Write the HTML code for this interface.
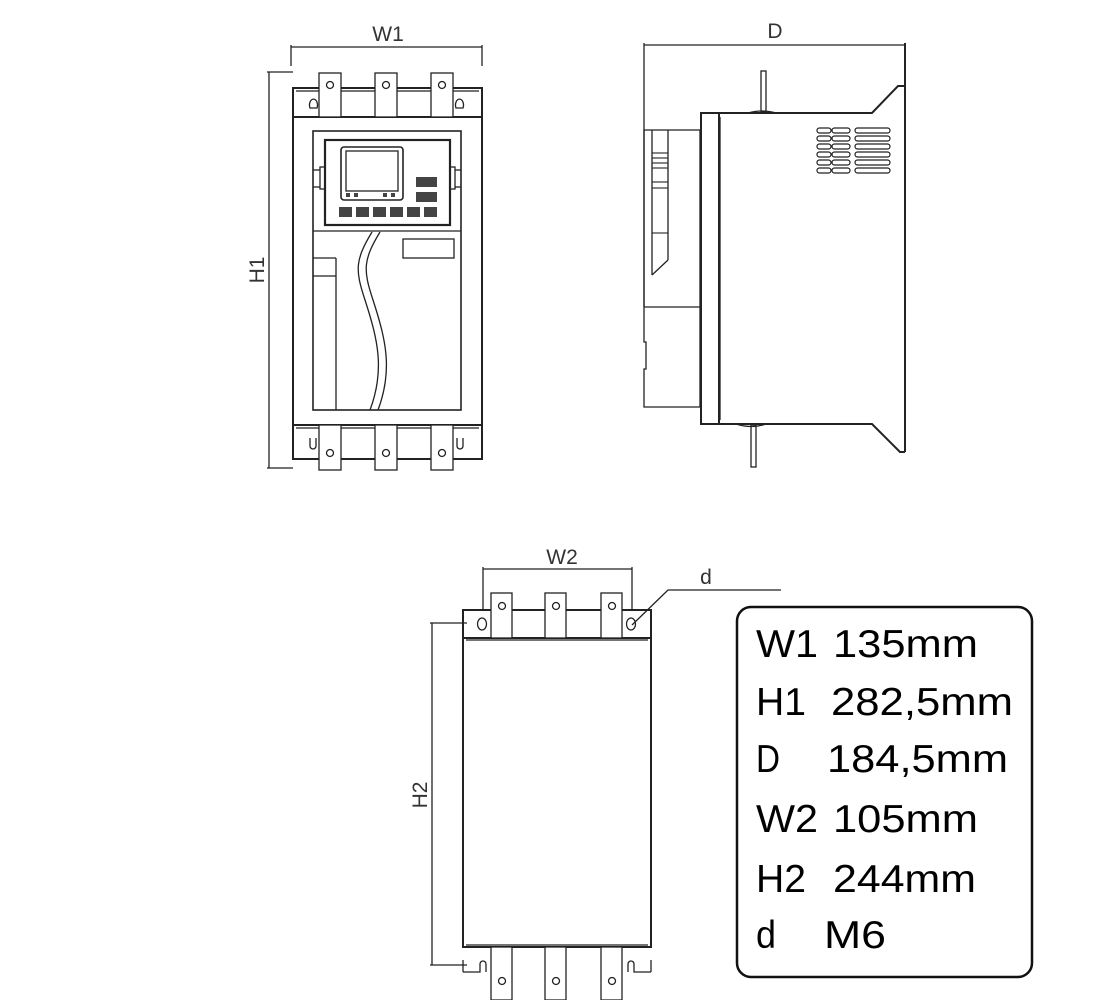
<!DOCTYPE html>
<html><head><meta charset="utf-8"><style>
html,body{margin:0;padding:0;background:#fff;}
svg{display:block;}
text{font-family:"Liberation Sans",sans-serif;}
</style></head><body>
<svg width="1109" height="1000" viewBox="0 0 1109 1000" xmlns="http://www.w3.org/2000/svg">
<g fill="none" stroke="#222" stroke-width="1.3">
<!-- FRONT VIEW -->
<line x1="291" y1="47" x2="482" y2="47"/>
<line x1="291" y1="45" x2="291" y2="66"/>
<line x1="482" y1="45" x2="482" y2="66"/>
<line x1="269" y1="72" x2="269" y2="468"/>
<line x1="267" y1="72" x2="293" y2="72"/>
<line x1="267" y1="468" x2="293" y2="468"/>
<rect x="293" y="88" width="189" height="371" stroke-width="2"/>
<line x1="293" y1="117" x2="482" y2="117" stroke-width="2"/>
<line x1="296" y1="91" x2="479" y2="91"/>
<line x1="293" y1="425" x2="482" y2="425" stroke-width="2"/>
<line x1="296" y1="428" x2="479" y2="428"/>
<g fill="#fff">
<rect x="319" y="73" width="22" height="44"/>
<rect x="375" y="73" width="22" height="44"/>
<rect x="431" y="73" width="22" height="44"/>
<rect x="319" y="425" width="22" height="45"/>
<rect x="375" y="425" width="22" height="45"/>
<rect x="431" y="425" width="22" height="45"/>
</g>
<circle cx="330" cy="85" r="3.5"/><circle cx="386" cy="85" r="3.5"/><circle cx="442" cy="85" r="3.5"/>
<circle cx="330" cy="453" r="3.5"/><circle cx="386" cy="453" r="3.5"/><circle cx="442" cy="453" r="3.5"/>
<path d="M310 108 a4 6 0 1 1 7 0 z"/>
<path d="M456 108 a4 6 0 1 1 7 0 z"/>
<path d="M310 438 v8 a3 3 0 0 0 6 0 v-8"/>
<path d="M457 438 v8 a3 3 0 0 0 6 0 v-8"/>
<rect x="313" y="131" width="148" height="279" stroke-width="1.6"/>
<rect x="325" y="140" width="125" height="85" stroke-width="2.2"/>
<rect x="320" y="167" width="5" height="22"/><rect x="450" y="167" width="5" height="22"/>
<line x1="313" y1="170" x2="320" y2="170"/><line x1="313" y1="187" x2="320" y2="187"/>
<line x1="455" y1="170" x2="461" y2="170"/><line x1="455" y1="187" x2="461" y2="187"/>
<rect x="341" y="147" width="62" height="53" rx="3" stroke-width="1.6"/>
<rect x="346" y="151" width="52" height="40"/>
<g fill="#444" stroke="none">
<rect x="346" y="193" width="4" height="4"/><rect x="354" y="193" width="4" height="4"/>
<rect x="383" y="193" width="4" height="4"/><rect x="391" y="193" width="4" height="4"/>
<rect x="339" y="207" width="13" height="10"/><rect x="356" y="207" width="13" height="10"/>
<rect x="373" y="207" width="13" height="10"/><rect x="390" y="207" width="13" height="10"/>
<rect x="407" y="207" width="13" height="10"/><rect x="424" y="207" width="13" height="10"/>
<rect x="416" y="177" width="21" height="10"/><rect x="416" y="192" width="21" height="10"/>
</g>
<line x1="313" y1="231" x2="461" y2="231"/>
<rect x="403" y="239" width="51" height="19"/>
<line x1="313" y1="258" x2="336" y2="258"/>
<line x1="313" y1="276" x2="336" y2="276"/>
<line x1="336" y1="258" x2="336" y2="410"/>
<path d="M372 232 C355 260,355 270,365 300 C378 340,385 370,370 410"/>
<path d="M380 232 C363 260,363 270,373 300 C386 340,393 370,378 410"/>
<!-- SIDE VIEW -->
<line x1="644" y1="45" x2="905" y2="45"/>
<line x1="644" y1="43" x2="644" y2="307"/>
<line x1="905" y1="43" x2="905" y2="452" stroke-width="2"/>
<path d="M701 113 H872 L898 86 H905" stroke-width="2"/>
<path d="M701 424 H872 L900 452 H905" stroke-width="2"/>
<rect x="701" y="113" width="18" height="311" stroke-width="2"/>
<line x1="720" y1="117" x2="720" y2="420"/>
<rect x="761" y="71" width="5" height="41"/>
<rect x="751" y="425" width="5" height="42"/>
<path d="M748 113 q14 -4 28 0"/><path d="M736 424 q15 5 30 0"/>
<path d="M700 130 H644 V307 H700 M644 307 V342 H646 V369 H644 V407 H700"/>
<path d="M700 130 V407"/>
<line x1="652" y1="130" x2="652" y2="275"/>
<line x1="668" y1="130" x2="668" y2="260"/>
<path d="M652 275 L668 260"/>
<g stroke-width="1.1">
<line x1="652" y1="153" x2="668" y2="153"/><line x1="652" y1="158" x2="668" y2="158"/>
<line x1="652" y1="163" x2="668" y2="163"/><line x1="652" y1="168" x2="668" y2="168"/>
<line x1="652" y1="182" x2="668" y2="182"/><line x1="652" y1="188" x2="668" y2="188"/>
<line x1="652" y1="233" x2="668" y2="233"/>
</g>
<g stroke-width="1.2">
<rect x="817" y="128" width="14" height="5" rx="2.5"/><rect x="832" y="128" width="18" height="5" rx="2.5"/><rect x="855" y="128" width="35" height="5" rx="2.5"/>
<rect x="817" y="136" width="14" height="5" rx="2.5"/><rect x="832" y="136" width="18" height="5" rx="2.5"/><rect x="855" y="136" width="35" height="5" rx="2.5"/>
<rect x="817" y="144" width="14" height="5" rx="2.5"/><rect x="832" y="144" width="18" height="5" rx="2.5"/><rect x="855" y="144" width="35" height="5" rx="2.5"/>
<rect x="817" y="152" width="14" height="5" rx="2.5"/><rect x="832" y="152" width="18" height="5" rx="2.5"/><rect x="855" y="152" width="35" height="5" rx="2.5"/>
<rect x="817" y="160" width="14" height="5" rx="2.5"/><rect x="832" y="160" width="18" height="5" rx="2.5"/><rect x="855" y="160" width="35" height="5" rx="2.5"/>
<rect x="817" y="168" width="14" height="5" rx="2.5"/><rect x="832" y="168" width="18" height="5" rx="2.5"/><rect x="855" y="168" width="35" height="5" rx="2.5"/>
</g>
<!-- BOTTOM VIEW -->
<line x1="483" y1="569" x2="632" y2="569"/>
<line x1="483" y1="567" x2="483" y2="610"/>
<line x1="632" y1="567" x2="632" y2="610"/>
<path d="M632 625 L668 590 H781"/>
<line x1="432" y1="623" x2="432" y2="965"/>
<line x1="430" y1="623" x2="467" y2="623"/>
<line x1="430" y1="965" x2="467" y2="965"/>
<rect x="463" y="610" width="188" height="337" stroke-width="2"/>
<line x1="463" y1="638" x2="651" y2="638" stroke-width="2"/>
<line x1="466" y1="640" x2="648" y2="640"/>
<line x1="463" y1="947" x2="651" y2="947" stroke-width="2"/>
<line x1="466" y1="945" x2="648" y2="945"/>
<line x1="463" y1="960" x2="463" y2="972"/><line x1="651" y1="960" x2="651" y2="972"/>
<path d="M463 972 H480 V964 a3 3 0 0 1 6 0 V972"/>
<path d="M651 972 H634 V964 a3 3 0 0 0 -6 0 V972"/>
<g fill="#fff">
<rect x="491" y="593" width="21" height="45"/>
<rect x="545" y="593" width="21" height="45"/>
<rect x="601" y="593" width="21" height="45"/>
<rect x="491" y="947" width="21" height="53"/>
<rect x="545" y="947" width="21" height="53"/>
<rect x="601" y="947" width="21" height="53"/>
</g>
<circle cx="502" cy="606" r="3.5"/><circle cx="556" cy="606" r="3.5"/><circle cx="612" cy="606" r="3.5"/>
<circle cx="502" cy="981" r="3.5"/><circle cx="556" cy="981" r="3.5"/><circle cx="612" cy="981" r="3.5"/>
<ellipse cx="482" cy="624" rx="4.5" ry="6"/>
<ellipse cx="631" cy="624" rx="4.5" ry="6"/>
<!-- TABLE -->
<rect x="737" y="607" width="295" height="370" rx="14" stroke="#111" stroke-width="2.5"/>
</g>
<g fill="#333" font-size="21">
<text x="388" y="41" text-anchor="middle">W1</text>
<text x="775" y="38" text-anchor="middle">D</text>
<text x="562" y="564" text-anchor="middle">W2</text>
<text x="706" y="584" text-anchor="middle">d</text>
<text transform="translate(264,270) rotate(-90)" text-anchor="middle">H1</text>
<text transform="translate(427,795) rotate(-90)" text-anchor="middle">H2</text>
</g>
<g fill="#000" font-size="39">
<text x="756" y="657" textLength="62" lengthAdjust="spacingAndGlyphs">W1</text>
<text x="833" y="657" textLength="145" lengthAdjust="spacingAndGlyphs">135mm</text>
<text x="756" y="715" textLength="50" lengthAdjust="spacingAndGlyphs">H1</text>
<text x="831" y="715" textLength="182" lengthAdjust="spacingAndGlyphs">282,5mm</text>
<text x="756" y="772" textLength="24" lengthAdjust="spacingAndGlyphs">D</text>
<text x="827" y="772" textLength="181" lengthAdjust="spacingAndGlyphs">184,5mm</text>
<text x="756" y="832" textLength="62" lengthAdjust="spacingAndGlyphs">W2</text>
<text x="833" y="832" textLength="145" lengthAdjust="spacingAndGlyphs">105mm</text>
<text x="756" y="892" textLength="50" lengthAdjust="spacingAndGlyphs">H2</text>
<text x="833" y="892" textLength="143" lengthAdjust="spacingAndGlyphs">244mm</text>
<text x="756" y="948" textLength="20" lengthAdjust="spacingAndGlyphs">d</text>
<text x="824" y="948" textLength="62" lengthAdjust="spacingAndGlyphs">M6</text>
</g>
</svg>
</body></html>
